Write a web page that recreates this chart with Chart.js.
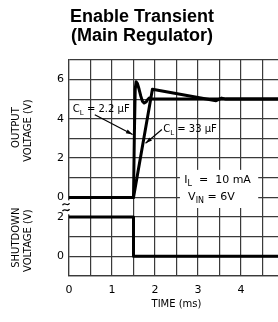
<!DOCTYPE html>
<html lang="en">
<head>
<meta charset="UTF-8">
<title>Enable Transient (Main Regulator)</title>
<script src="https://cdn.jsdelivr.net/npm/chart.js@4.4.0/dist/chart.umd.min.js"></script>
<style>
  html, body { margin: 0; padding: 0; background: #fff; overflow: hidden; }
  #wrap { width: 292px; height: 322px; }
</style>
</head>
<body>
<div id="wrap"><canvas id="chart" width="292" height="322"></canvas></div>
<script>
// time in ms, voltages in V
const shutdownTime  = [0, 1.5, 1.5, 5];
const shutdownVolts = [2, 2, 0, 0];

// C_L = 2.2 uF
const smallCapTime  = [0, 1.5, 1.52, 1.54, 1.56, 1.59, 1.63, 1.67, 1.71, 1.75, 1.79, 1.83, 1.87, 1.94, 5];
const smallCapVolts = [0, 0, 3.2, 5.5, 5.88, 5.8, 5.5, 5.15, 4.88, 4.8, 4.85, 4.98, 5.06, 5.0, 5.0];

// C_L = 33 uF
const bigCapTime  = [0, 1.5, 1.94, 3.42, 3.55, 3.65, 5];
const bigCapVolts = [0, 0, 5.5, 4.92, 5.05, 5.0, 5.0];

const outputTicks   = [0, 2, 4, 6];
const shutdownTicks = [0, 2];
const timeTicks     = [0, 1, 2, 3, 4];

// both panels share one y axis: shutdown lives at -1..2, output is shifted up by 3
const OUT_SHIFT = 3;
const labelFont = '"DejaVu Sans", sans-serif';
const gridColor = '#3a3a3a';

function pts(ts, vs, shift) {
    return ts.map((t, i) => ({ x: t, y: vs[i] + shift }));
}

function subText(ctx, x, y, main, sub, rest, size) {
    ctx.font = size + 'px ' + labelFont;
    ctx.fillText(main, x, y);
    x += ctx.measureText(main).width;
    ctx.font = (size - 3) + 'px ' + labelFont;
    ctx.fillText(sub, x, y + 3);
    x += ctx.measureText(sub).width;
    ctx.font = size + 'px ' + labelFont;
    ctx.fillText(rest, x, y);
}

function arrow(ctx, x1, y1, x2, y2) {
    ctx.lineWidth = 1.2;
    ctx.beginPath(); ctx.moveTo(x1, y1); ctx.lineTo(x2, y2); ctx.stroke();
    const a = Math.atan2(y2 - y1, x2 - x1);
    ctx.beginPath();
    ctx.moveTo(x2, y2);
    ctx.lineTo(x2 - 7 * Math.cos(a - 0.3), y2 - 7 * Math.sin(a - 0.3));
    ctx.lineTo(x2 - 7 * Math.cos(a + 0.3), y2 - 7 * Math.sin(a + 0.3));
    ctx.closePath();
    ctx.fill();
}

const notes = {
    id: 'notes',
    afterDraw(chart) {
        const { ctx, scales: { x, y }, chartArea } = chart;
        const px = t => x.getPixelForValue(t);
        const py = v => y.getPixelForValue(v + OUT_SHIFT);
        ctx.save();
        ctx.fillStyle = '#000';
        ctx.strokeStyle = '#000';

        // rotated axis titles for the two panels
        ctx.font = '10px ' + labelFont;
        ctx.textAlign = 'center';
        ctx.textBaseline = 'middle';
        [['OUTPUT', 16.5, py(3.55)], ['VOLTAGE (V)', 28.5, py(3.4)],
         ['SHUTDOWN', 16.5, y.getPixelForValue(0.95)], ['VOLTAGE (V)', 28.5, y.getPixelForValue(0.8)]]
            .forEach(([txt, tx, ty]) => {
                ctx.save();
                ctx.translate(tx, ty);
                ctx.rotate(-Math.PI / 2);
                ctx.fillText(txt, 0, 0);
                ctx.restore();
            });

        // axis break between the panels
        ctx.fillStyle = '#fff';
        ctx.fillRect(chartArea.left - 2, py(-0.15), 4, 14);
        ctx.fillStyle = '#000';
        ctx.lineWidth = 1.3;
        [py(-0.35), py(-0.65)].forEach(cy => {
            const cx = chartArea.left - 3;
            ctx.beginPath();
            ctx.moveTo(cx - 3.5, cy + 1);
            ctx.bezierCurveTo(cx - 1.5, cy - 3, cx + 1.5, cy + 3, cx + 3.5, cy - 1);
            ctx.stroke();
        });

        // capacitor callouts
        ctx.textAlign = 'left';
        ctx.textBaseline = 'alphabetic';
        subText(ctx, px(0.09), py(4.35), 'C', 'L', ' = 2.2 \u00b5F', 10);
        arrow(ctx, px(0.6), py(4.2), px(1.48), py(3.2));
        subText(ctx, px(2.19), py(3.33), 'C', 'L', ' = 33 \u00b5F', 10);
        arrow(ctx, px(2.16), py(3.45), px(1.78), py(2.75));

        // test conditions box
        ctx.fillStyle = '#fff';
        ctx.fillRect(px(2.58), py(1.4), px(4.4) - px(2.58), py(-0.54) - py(1.4));
        ctx.fillStyle = '#000';
        subText(ctx, px(2.68), py(0.71), 'I', 'L', '  =  10 mA', 11);
        subText(ctx, px(2.77), py(-0.13), 'V', 'IN', ' = 6V', 11);
        ctx.restore();
    }
};

const lineStyle = { borderColor: '#000', borderWidth: 3, pointRadius: 0, tension: 0, fill: false, borderJoinStyle: 'round' };

new Chart(document.getElementById('chart'), {
    type: 'line',
    data: {
        datasets: [
            Object.assign({ label: 'Shutdown', data: pts(shutdownTime, shutdownVolts, 0) }, lineStyle),
            Object.assign({ label: 'CL = 2.2 uF', data: pts(smallCapTime, smallCapVolts, OUT_SHIFT) }, lineStyle),
            Object.assign({ label: 'CL = 33 uF', data: pts(bigCapTime, bigCapVolts, OUT_SHIFT) }, lineStyle)
        ]
    },
    options: {
        responsive: false,
        animation: false,
        layout: { padding: { left: 0, right: 8, top: 0, bottom: 0 } },
        plugins: {
            legend: { display: false },
            tooltip: { enabled: false },
            title: {
                display: true,
                text: ['Enable Transient', '(Main Regulator)'],
                color: '#000',
                font: { family: '"Liberation Sans", Arial, sans-serif', size: 18, weight: 'bold', lineHeight: 1.05 },
                padding: { top: 8, bottom: 14 }
            }
        },
        scales: {
            x: {
                type: 'linear',
                min: 0,
                max: 5,
                afterFit: s => { s.height = 46; },
                grid: { color: gridColor, lineWidth: 1.2, drawTicks: false },
                border: { color: gridColor, width: 1.2 },
                ticks: {
                    stepSize: 0.5,
                    autoSkip: false,
                    maxRotation: 0,
                    padding: 8,
                    color: '#000',
                    font: { family: labelFont, size: 11 },
                    callback: v => timeTicks.includes(v) ? String(v) : ''
                },
                title: {
                    display: true,
                    text: 'TIME (ms)',
                    color: '#000',
                    font: { family: labelFont, size: 10, lineHeight: 1.2 },
                    padding: { top: 0, bottom: 12 }
                }
            },
            y: {
                min: -1,
                max: 10,
                afterFit: s => { s.width = 69; },
                grid: { color: gridColor, lineWidth: 1.2, drawTicks: false },
                border: { color: gridColor, width: 1.2 },
                ticks: {
                    stepSize: 1,
                    autoSkip: false,
                    padding: 5,
                    color: '#000',
                    font: { family: labelFont, size: 11 },
                    callback: v => {
                        if (v >= OUT_SHIFT && outputTicks.includes(v - OUT_SHIFT)) return String(v - OUT_SHIFT);
                        if (v < OUT_SHIFT && shutdownTicks.includes(v)) return String(v);
                        return '';
                    }
                }
            }
        }
    },
    plugins: [notes]
});
</script>
</body>
</html>
